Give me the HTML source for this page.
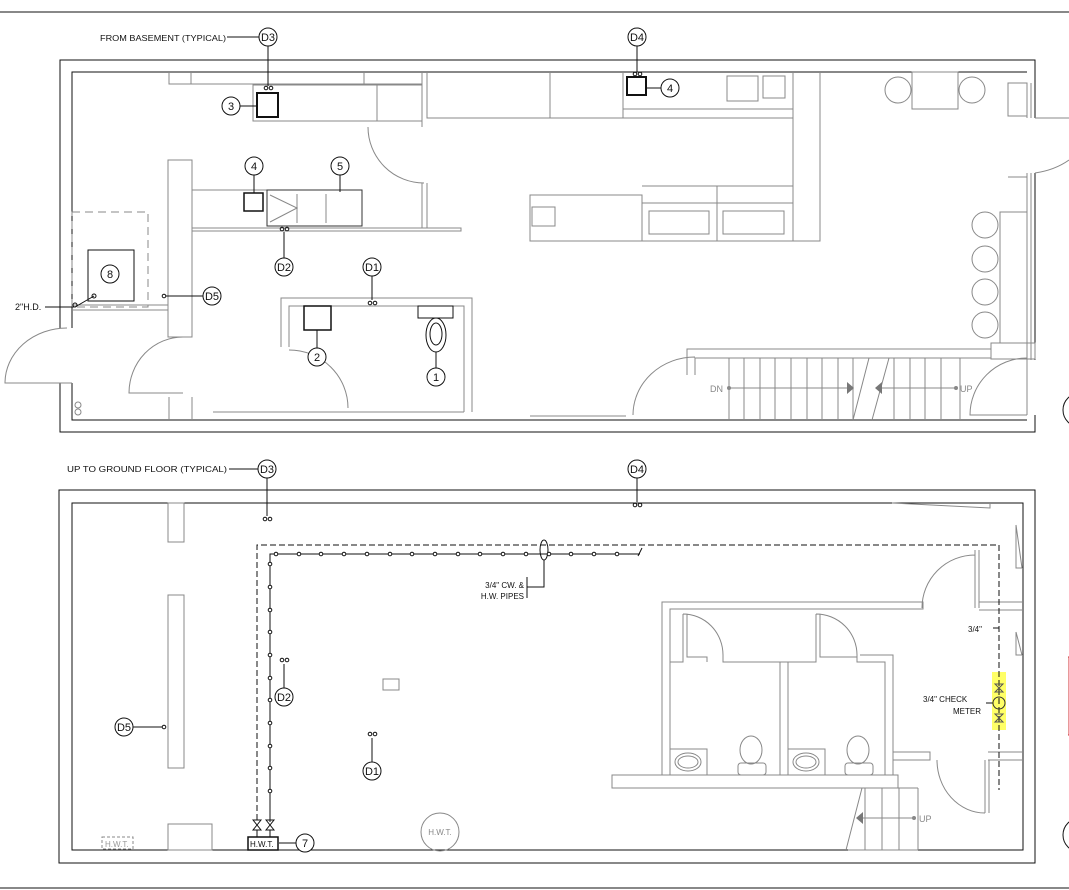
<!DOCTYPE html>
<html><head><meta charset="utf-8"><style>
html,body{margin:0;padding:0;background:#fff;width:1069px;height:890px;overflow:hidden}
svg{display:block}
text{font-family:"Liberation Sans",sans-serif;fill:#111}
.g{stroke:#888;fill:none;stroke-width:1}
.k{stroke:#111;fill:none;stroke-width:1}
</style></head><body>
<svg width="1069" height="890" viewBox="0 0 1069 890">
<defs>
<g id="tag"><circle r="9" fill="#fff" stroke="#111"/></g>
</defs>
<line x1="0" y1="12" x2="1069" y2="12" stroke="#111"/>
<line x1="0" y1="888" x2="1069" y2="888" stroke="#111"/>

<!-- ===== TOP PLAN ===== -->
<g class="k">
<path d="M60 328 V60 H1035 V118 M1035 173 V360 M1035 415 V432 H60 V383"/>
<path d="M72 328 V72 H1027"/>
<path d="M72 383 V420 H1027"/>
</g>
<g class="g">
<path d="M169 72 V84 H422 M191 72 V84 M364 72 V84"/>
<rect x="253" y="85" width="169" height="36"/><rect x="377" y="85" width="45" height="36"/>
<path d="M422 72 V127 M427 72 V118 H793 M550 72 V118 M623 72 V118"/>
<path d="M623 109 H793 M793 72 V241 M820 72 V241 H642"/>
<rect x="727" y="76" width="31" height="25"/><rect x="763" y="76" width="22" height="22"/>
<path d="M368 127 A56 56 0 0 0 424 183"/><path d="M422 183 V228 M427 183 V228"/>
<rect x="168" y="160" width="24" height="177"/>
<path d="M192 190 H267 M192 228 H461 V231 H192"/>
<rect x="267" y="190" width="95" height="36" stroke="#333"/>
<path d="M270 195 L297 208 L270 222 M297 194 V223 M326 194 V223"/>
<rect x="72" y="212" width="76" height="95" stroke-dasharray="8 5"/>
<path d="M72 305 H168 M72 310 H168"/>
<path d="M530 195 H642 V241 H530 Z M642 186 H793 M642 203 H793 M717 186 V241"/>
<rect x="532" y="207" width="23" height="19"/>
<rect x="649" y="211" width="60" height="23"/><rect x="723" y="211" width="61" height="23"/>
<path d="M281 347 V298 H472 V412 M289 347 V306 H464 V412 M213 412 H464"/>
<path d="M183 337 A54 56 0 0 0 129 393 H183"/>
<path d="M289 350 A59 58 0 0 1 348 408"/>
<path d="M169 397 V420 M192 397 V420"/>
<rect x="912" y="72" width="46" height="37"/>
<circle cx="898" cy="90" r="13"/><circle cx="972" cy="90" r="13"/>
<rect x="1008" y="83" width="19" height="33"/>
<path d="M1027 83 V118 M1031 83 V118 M1027 173 V360 M1031 173 V360"/>
<path d="M1008 177 H1027 V212 M1000 212 H1027 V343 H1000 Z"/>
<circle cx="985" cy="225" r="13"/><circle cx="985" cy="259" r="13"/><circle cx="985" cy="292" r="13"/><circle cx="985" cy="325" r="13"/>
<path d="M1035 118 H1069 M1035 173 Q1055 170 1069 160"/>
<path d="M1027 415 V358 A57 57 0 0 0 970 415 H1027"/>
<rect x="991" y="343" width="44" height="16"/>
<path d="M687 375 V349 H991 M695 375 V358 H991 M695 357 A62 58 0 0 0 633 415"/>
<path d="M729 358 V420 M744 358 V420 M760 358 V420 M775 358 V420 M791 358 V420 M807 358 V420 M822 358 V420 M838 358 V420 M853 358 V420 M894 358 V420 M910 358 V420 M925 358 V420 M941 358 V420 M960 358 V420"/>
<path d="M853 420 L869 358 M872 420 L889 358"/>
<path d="M729 388 H853 M882 388 H956"/>
<path d="M530 416 H626"/>
<path d="M72 383 H5 A62 55 0 0 1 67 328"/>
</g>
<polygon points="847,382 854,388 847,394" fill="#777"/><polygon points="882,382 875,388 882,394" fill="#777"/>
<circle cx="729" cy="388" r="2" fill="#888"/><circle cx="956" cy="388" r="2" fill="#888"/>
<text x="710" y="392" font-size="9" style="fill:#888">DN</text>
<text x="960" y="392" font-size="9" style="fill:#888">UP</text>
<circle cx="78" cy="405" r="3" class="g"/><circle cx="78" cy="412" r="3" class="g"/>
<circle cx="1080" cy="410" r="17" class="k"/>

<g class="k">
<rect x="257" y="93" width="21" height="24" stroke-width="2"/>
<rect x="627" y="77" width="19" height="18" stroke-width="2"/>
<rect x="244" y="193" width="19" height="18" stroke-width="1.5"/>
<rect x="88" y="250" width="46" height="51"/>
<rect x="304" y="306" width="27" height="24" stroke-width="1.5"/>
<rect x="418" y="306" width="35" height="12"/>
<ellipse cx="436" cy="335" rx="10" ry="17"/><ellipse cx="436" cy="334" rx="6" ry="11"/>
<path d="M227 37 H259 M268 46 V86 M240 106 H257 M637 46 V72 M646 88 H661 M254 175 V193 M340 175 V192 M284 258 V232 M372 258 V300 M166 296 H203 M317 348 V330 M436 368 V352 M45 307 H75 L94 296"/>
</g>
<g fill="none" stroke="#111"><circle cx="266" cy="88" r="1.8"/><circle cx="271" cy="88" r="1.8"/><circle cx="635" cy="74" r="1.8"/><circle cx="640" cy="74" r="1.8"/><circle cx="282" cy="229" r="1.8"/><circle cx="287" cy="229" r="1.8"/><circle cx="370" cy="303" r="1.8"/><circle cx="375" cy="303" r="1.8"/><circle cx="75" cy="305" r="2"/><circle cx="94" cy="296" r="2"/><circle cx="164" cy="296" r="1.8"/></g>
<text x="100" y="41" font-size="8" textLength="126" lengthAdjust="spacingAndGlyphs">FROM  BASEMENT  (TYPICAL)</text>
<text x="15" y="310" font-size="9">2"H.D.</text>
<g font-size="11" text-anchor="middle">
<use href="#tag" x="268" y="37"/><text x="268" y="41">D3</text>
<use href="#tag" x="637" y="37"/><text x="637" y="41">D4</text>
<use href="#tag" x="231" y="106"/><text x="231" y="110">3</text>
<use href="#tag" x="670" y="88"/><text x="670" y="92">4</text>
<use href="#tag" x="254" y="166"/><text x="254" y="170">4</text>
<use href="#tag" x="340" y="166"/><text x="340" y="170">5</text>
<use href="#tag" x="284" y="267"/><text x="284" y="271">D2</text>
<use href="#tag" x="372" y="267"/><text x="372" y="271">D1</text>
<use href="#tag" x="110" y="274"/><text x="110" y="278">8</text>
<use href="#tag" x="212" y="296"/><text x="212" y="300">D5</text>
<use href="#tag" x="317" y="357"/><text x="317" y="361">2</text>
<use href="#tag" x="436" y="377"/><text x="436" y="381">1</text>
</g>

<!-- ===== BOTTOM PLAN ===== -->
<g class="k">
<rect x="59" y="490" width="976" height="373"/>
<rect x="72" y="503" width="951" height="347"/>
</g>
<g class="g">
<rect x="168" y="503" width="16" height="39"/><rect x="168" y="595" width="16" height="173"/><rect x="168" y="824" width="44" height="26"/>
<rect x="383" y="679" width="16" height="11"/>
<circle cx="440" cy="832" r="19"/>
<rect x="102" y="837" width="31" height="12" stroke-dasharray="3 2"/>
<path d="M662 775 V602 H923 V609 H670 V775 M670 662 H683 V614 M687 614 V657 H707 V662 M683 614 A40 41 0 0 1 723 655 M723 655 V662 H816 V614 M820 614 V657 H857 M816 614 A41 41 0 0 1 857 655 V662 H885 V775 M893 775 V655 H860"/>
<path d="M780 662 V775 M788 662 V775"/>
<rect x="612" y="775" width="286" height="13"/>
<rect x="670" y="749" width="37" height="26"/><rect x="788" y="749" width="37" height="26"/>
<ellipse cx="688" cy="762" rx="13" ry="9"/><ellipse cx="688" cy="762" rx="10" ry="6"/>
<ellipse cx="806" cy="762" rx="13" ry="9"/><ellipse cx="806" cy="762" rx="10" ry="6"/>
<ellipse cx="751" cy="750" rx="11" ry="14"/><rect x="738" y="763" width="28" height="12" rx="3"/>
<ellipse cx="858" cy="750" rx="11" ry="14"/><rect x="845" y="763" width="28" height="12" rx="3"/>
<path d="M922 608 A53 53 0 0 1 975 555 M975 550 V608 M979 550 V608 M979 602 H1023 M979 610 H1023 M923 602 V609"/>
<path d="M893 752 H930 V760 H893 M985 760 V813 M989 760 V813 M937 760 A48 53 0 0 0 985 813 M988 752 H1023 M988 760 H1023"/>
<path d="M846 850 L862 788 M865 788 V850 M882 788 V850 M899 788 V850 M918 788 V850 M848 850 H918 M862 788 H918 M862 818 H914"/>
<path d="M892 503 L990 508 V503 M1016 525 V568 H1022 M1016 525 L1022 568 M1016 632 V655 H1022 M1016 632 L1022 655"/>
</g>
<polygon points="856,818 863,812 863,824" fill="#777"/><circle cx="914" cy="818" r="2" fill="#888"/>
<text x="919" y="822" font-size="9" style="fill:#888">UP</text>
<text x="105" y="847" font-size="8" style="fill:#999">H.W.T.</text>
<text x="440" y="835" font-size="8" text-anchor="middle" style="fill:#888">H.W.T.</text>

<rect x="992" y="672" width="14" height="58" fill="#ff6" stroke="none"/>
<g class="k">
<path d="M257 820 V545 H999 V790" stroke-dasharray="6 3"/>
<path d="M270 822 V554 H640 M638 556 L642 548"/>
<ellipse cx="544" cy="550" rx="4" ry="10"/>
<path d="M544 560 V587 H527 M527 577 V598"/>
<rect x="248" y="837" width="30" height="13" stroke-width="1.5"/>
<path d="M257 830 V837 M270 830 V837 M253 820 L261 830 H253 L261 820 Z M266 820 L274 830 H266 L274 820 Z"/>
<path d="M296 843 H279 M267 478 V516 M637 478 V502 M229 469 H258 M284 688 V664 M372 762 V738 M133 727 H162 M993 628 H999 M986 703 H993"/>
<circle cx="999" cy="703" r="6" stroke="#333"/>
<path d="M995 684 L1003 684 L995 692 H1003 Z M995 714 H1003 L995 722 H1003 Z" stroke="#555"/>
</g>
<g fill="#fff" stroke="#111">
<circle cx="276" cy="554" r="1.8"/><circle cx="299" cy="554" r="1.8"/><circle cx="321" cy="554" r="1.8"/><circle cx="344" cy="554" r="1.8"/><circle cx="367" cy="554" r="1.8"/><circle cx="390" cy="554" r="1.8"/><circle cx="412" cy="554" r="1.8"/><circle cx="435" cy="554" r="1.8"/><circle cx="458" cy="554" r="1.8"/><circle cx="480" cy="554" r="1.8"/><circle cx="503" cy="554" r="1.8"/><circle cx="526" cy="554" r="1.8"/><circle cx="549" cy="554" r="1.8"/><circle cx="571" cy="554" r="1.8"/><circle cx="594" cy="554" r="1.8"/><circle cx="617" cy="554" r="1.8"/>
<circle cx="270" cy="564" r="1.8"/><circle cx="270" cy="587" r="1.8"/><circle cx="270" cy="610" r="1.8"/><circle cx="270" cy="632" r="1.8"/><circle cx="270" cy="655" r="1.8"/><circle cx="270" cy="678" r="1.8"/><circle cx="270" cy="700" r="1.8"/><circle cx="270" cy="723" r="1.8"/><circle cx="270" cy="746" r="1.8"/><circle cx="270" cy="768" r="1.8"/><circle cx="270" cy="791" r="1.8"/>
<circle cx="265" cy="519" r="1.8"/><circle cx="270" cy="519" r="1.8"/><circle cx="635" cy="505" r="1.8"/><circle cx="640" cy="505" r="1.8"/>
<circle cx="282" cy="660" r="1.8"/><circle cx="287" cy="660" r="1.8"/><circle cx="370" cy="734" r="1.8"/><circle cx="375" cy="734" r="1.8"/><circle cx="164" cy="727" r="1.8"/>
</g>
<text x="67" y="472" font-size="8" textLength="160" lengthAdjust="spacingAndGlyphs">UP  TO  GROUND  FLOOR  (TYPICAL)</text>
<text x="524" y="588" font-size="8" text-anchor="end">3/4"  CW.  &amp;</text>
<text x="524" y="599" font-size="8" text-anchor="end">H.W.  PIPES</text>
<text x="250" y="847" font-size="8">H.W.T.</text>
<text x="968" y="632" font-size="8">3/4"</text>
<text x="923" y="702" font-size="8">3/4"  CHECK</text>
<text x="953" y="714" font-size="8">METER</text>
<g font-size="11" text-anchor="middle">
<use href="#tag" x="267" y="469"/><text x="267" y="473">D3</text>
<use href="#tag" x="637" y="469"/><text x="637" y="473">D4</text>
<use href="#tag" x="284" y="697"/><text x="284" y="701">D2</text>
<use href="#tag" x="372" y="771"/><text x="372" y="775">D1</text>
<use href="#tag" x="124" y="727"/><text x="124" y="731">D5</text>
<use href="#tag" x="305" y="843"/><text x="305" y="847">7</text>
</g>
<path d="M1068 657 H1069 V735 H1068" stroke="#c33" fill="none"/>
<circle cx="1080" cy="835" r="17" class="k"/>
</svg>
</body></html>
